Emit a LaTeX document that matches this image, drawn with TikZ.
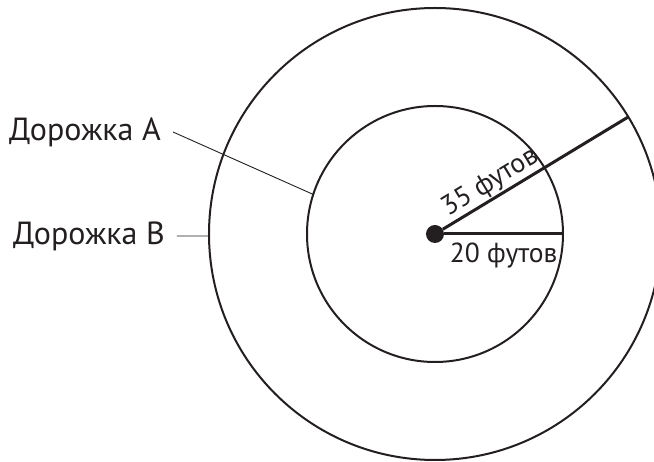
\documentclass[tikz,border=0pt]{standalone}
\usepackage{fontspec}
\setmainfont{PT Sans}
\usepackage{tikz}
\usetikzlibrary{positioning}
\definecolor{ink}{RGB}{35,31,32}

\begin{document}
\begin{tikzpicture}[x=1pt, y=1pt, color=ink,
  track/.style={line width=2pt},
  spoke/.style={line width=3pt},
  leader/.style={line width=0.9pt},
  namelbl/.style={font=\fontsize{32}{38}\selectfont, inner sep=12pt},
  sizelbl/.style={font=\fontsize{27.5}{33}\selectfont}]
\useasboundingbox (-435,-228) rectangle (219,234);
\clip (-435,-228) rectangle (219,234);
\draw[track] (0,0) circle[radius=226pt];
\draw[track] (0,0) circle[radius=128pt];
\node[circle, fill, inner sep=0pt, minimum size=18pt] (c) at (0,0) {};
\coordinate (p20) at (0:128);
\coordinate (p35) at (31.2:226);
\draw[spoke] (c) -- node[sizelbl, below=4pt, pos=0.5] {20 футов} (p20);
\draw[spoke] (c) -- node[sizelbl, sloped, above, inner sep=1pt, pos=0.3] {35 футов} (p35);
% track names
\coordinate (a) at (162:128);
\coordinate (b) at (180.5:226);
\node[namelbl, anchor=east] (trackA) at (-262,102) {Дорожка A};
\node[namelbl, anchor=east] (trackB) at (-258,-2) {Дорожка B};
\draw[leader] (trackA.east) -- (a);
\draw[leader] (trackB.east) -- (b);
\end{tikzpicture}
\end{document}
